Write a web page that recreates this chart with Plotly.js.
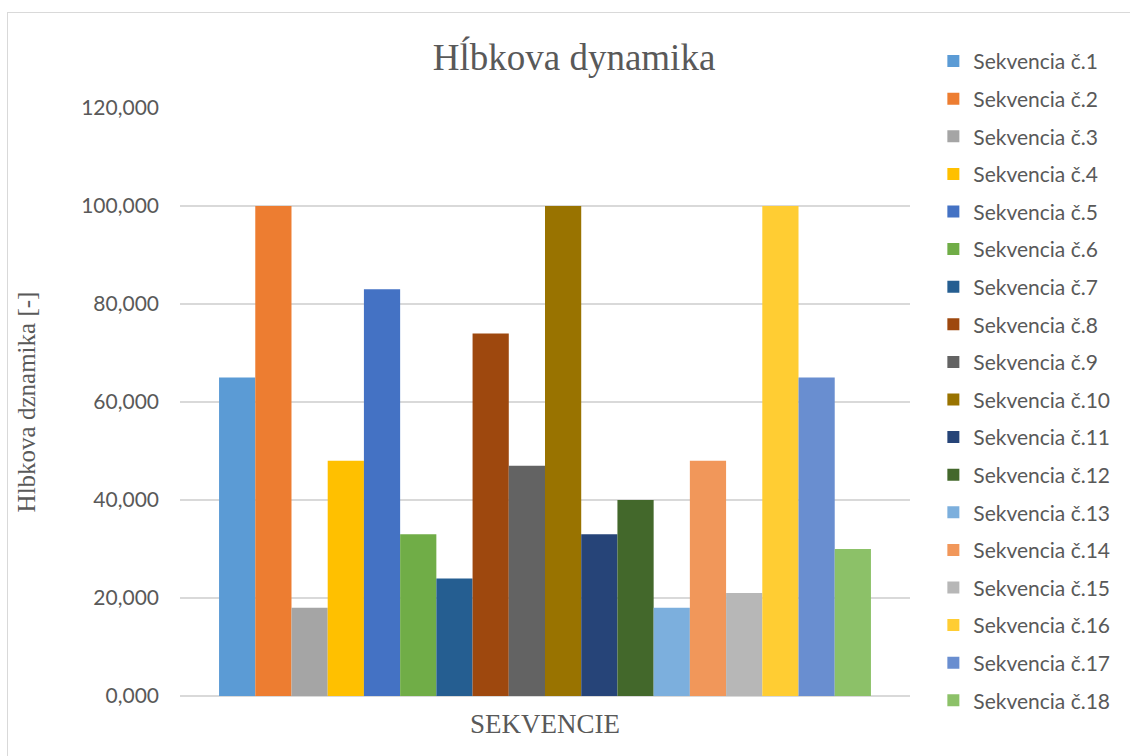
<!DOCTYPE html>
<html>
<head>
<meta charset="utf-8">
<script src="https://cdn.plot.ly/plotly-3.0.1.min.js"></script>
<style>
html,body{margin:0;padding:0;background:#fff;}
#frame{position:absolute;left:7px;top:12px;width:1140px;height:760px;border:1px solid #d9d9d9;box-sizing:border-box;}
#chart{position:absolute;left:0;top:0;width:1130px;height:756px;}
</style>
</head>
<body>
<div id="frame"></div>
<div id="chart"></div>
<script>
const seriesNames = ["Sekvencia č.1","Sekvencia č.2","Sekvencia č.3","Sekvencia č.4","Sekvencia č.5","Sekvencia č.6","Sekvencia č.7","Sekvencia č.8","Sekvencia č.9","Sekvencia č.10","Sekvencia č.11","Sekvencia č.12","Sekvencia č.13","Sekvencia č.14","Sekvencia č.15","Sekvencia č.16","Sekvencia č.17","Sekvencia č.18"];
const seriesValues = [65,100,18,48,83,33,24,74,47,100,33,40,18,48,21,100,65,30];
const seriesColors = ["#5B9BD5","#ED7D31","#A5A5A5","#FFC000","#4472C4","#70AD47","#255E91","#9E480E","#636363","#997300","#264478","#43682B","#7CAFDD","#F1975A","#B7B7B7","#FFCD33","#698ED0","#8CC168"];
const category = ["SEKVENCIE"];
const yTickVals = [0,20,40,60,80,100,120];
const yTickText = ["0,000","20,000","40,000","60,000","80,000","100,000","120,000"];

const traces = seriesNames.map((n,i)=>({
  type:'bar', name:n, x:category, y:[seriesValues[i]],
  marker:{color:seriesColors[i], line:{width:0}},
  legendgroup:'g'+i, hoverinfo:'name+y'
}));

const layout = {
  width:1130, height:756,
  paper_bgcolor:'rgba(0,0,0,0)', plot_bgcolor:'rgba(0,0,0,0)',
  margin:{l:180, r:220, t:108, b:60},
  barmode:'group', bargap:0.107, bargroupgap:0,
  title:{text:'Hĺbkova dynamika', font:{family:'Liberation Serif, Times New Roman, serif', size:37, color:'#595959'}, x:0.508, xanchor:'center', y:0.925, yanchor:'middle'},
  xaxis:{showticklabels:false, showgrid:false, zeroline:false, showline:false, ticks:'',
    title:{text:'SEKVENCIE', font:{family:'Liberation Serif, serif', size:27, color:'#595959'}, standoff:18}},
  yaxis:{range:[0,120], tickvals:yTickVals, ticktext:yTickText, showgrid:true, gridcolor:'#d9d9d9', gridwidth:1.5,
    zeroline:true, zerolinecolor:'#d9d9d9', zerolinewidth:1.5, showline:false, ticks:'', ticklen:0, ticklabelstandoff:20,
    tickfont:{family:'Lato, Calibri, sans-serif', size:21, color:'#595959'}, automargin:false,
    title:{text:'Hlbkova dznamika [-]', font:{family:'Liberation Serif, serif', size:25, color:'#595959'}, standoff:38}},
  legend:{x:1.032, xanchor:'left', y:1.114, yanchor:'top', traceorder:'grouped', tracegroupgap:7.3, maxheight:745,
    font:{family:'Lato, Calibri, sans-serif', size:21, color:'#595959'}, bgcolor:'rgba(0,0,0,0)'},
  showlegend:true
};
Plotly.newPlot('chart', traces, layout, {displayModeBar:false, staticPlot:true});
</script>
</body>
</html>
